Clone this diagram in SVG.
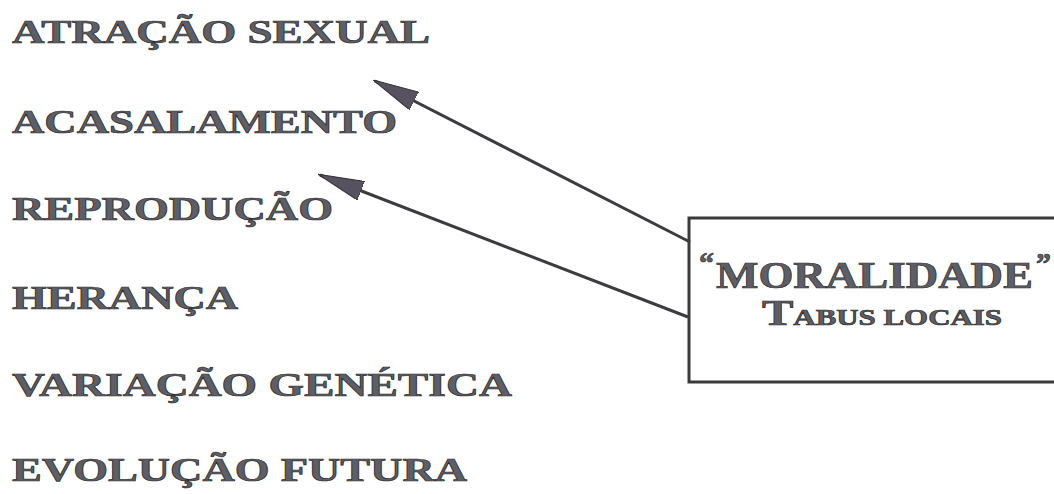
<svg xmlns="http://www.w3.org/2000/svg" width="1054" height="494" viewBox="0 0 1054 494">
  <style>
    .lbl { font-family: "Liberation Serif", "Times New Roman", serif; font-weight: bold; font-size: 33px; fill: #5e5e66; stroke: #2e2e2e; stroke-width: 0.7; }
    .box { fill: #ffffff; stroke: #3a3a3a; stroke-width: 3; }
    .conn { stroke: #3c3c40; stroke-width: 3; fill: none; }
  </style>
  <defs>
    <marker id="arrow" viewBox="0 0 46 20" refX="44" refY="10" markerWidth="46" markerHeight="20" markerUnits="userSpaceOnUse" orient="auto">
      <path d="M0,0 L46,10 L0,20 Z" fill="#57525f" stroke="#333" stroke-width="1"/>
    </marker>
  </defs>
  <rect width="1054" height="494" fill="#ffffff"/>

  <g id="n-atracao"><text class="lbl" x="12" y="43" textLength="418" lengthAdjust="spacingAndGlyphs">ATRAÇÃO SEXUAL</text></g>
  <g id="n-acasalamento"><text class="lbl" x="12" y="133" textLength="385" lengthAdjust="spacingAndGlyphs">ACASALAMENTO</text></g>
  <g id="n-reproducao"><text class="lbl" x="12" y="220" textLength="321" lengthAdjust="spacingAndGlyphs">REPRODUÇÃO</text></g>
  <g id="n-heranca"><text class="lbl" x="12" y="309" textLength="226" lengthAdjust="spacingAndGlyphs">HERANÇA</text></g>
  <g id="n-variacao"><text class="lbl" x="12" y="396" textLength="500" lengthAdjust="spacingAndGlyphs">VARIAÇÃO GENÉTICA</text></g>
  <g id="n-evolucao"><text class="lbl" x="12" y="481" textLength="455" lengthAdjust="spacingAndGlyphs">EVOLUÇÃO FUTURA</text></g>

  <g id="n-moralidade">
    <rect class="box" x="689" y="218" width="420" height="164"/>
    <text class="lbl" x="699" y="273" style="font-size:30px">“</text>
    <text class="lbl" x="716" y="288" style="font-size:38px" textLength="317" lengthAdjust="spacingAndGlyphs">MORALIDADE</text>
    <text class="lbl" x="1036" y="273" style="font-size:30px">”</text>
    <text class="lbl" x="762" y="325" textLength="240" lengthAdjust="spacingAndGlyphs"><tspan style="font-size:35px">T</tspan><tspan style="font-size:23px">ABUS LOCAIS</tspan></text>
  </g>

  <g id="connectors">
    <line class="conn" x1="690" y1="242" x2="375" y2="81" marker-end="url(#arrow)"/>
    <line class="conn" x1="688" y1="317" x2="320" y2="175" marker-end="url(#arrow)"/>
  </g>
</svg>
